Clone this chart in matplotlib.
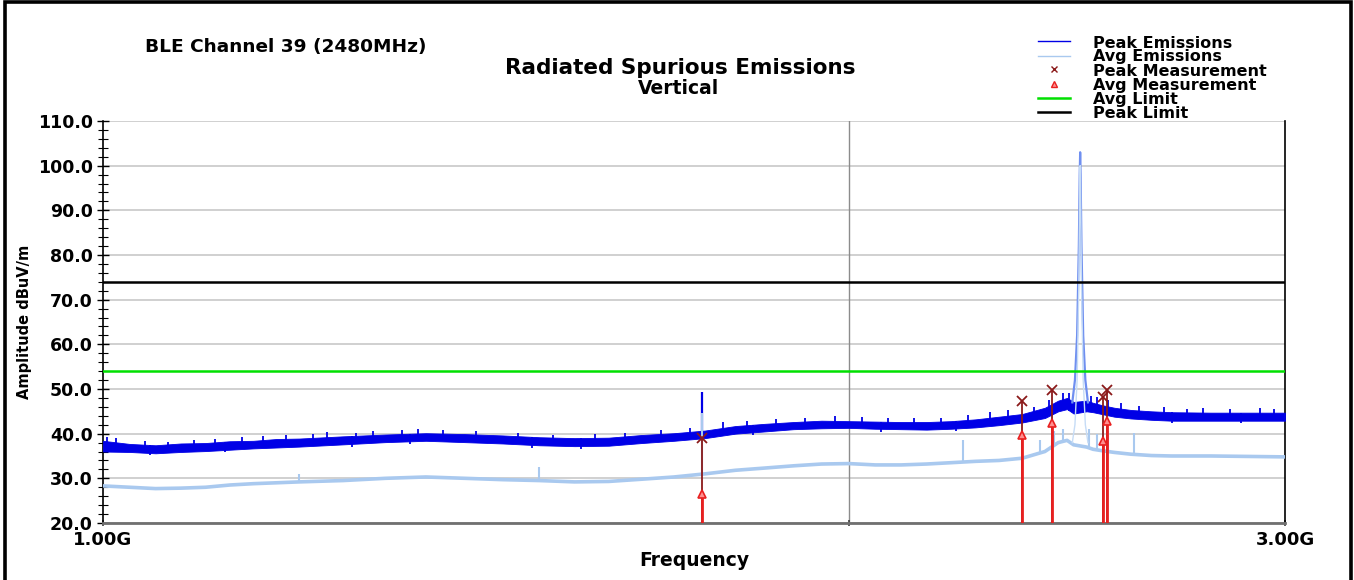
import numpy as np
import matplotlib
matplotlib.use('Agg')
import matplotlib.pyplot as plt
from matplotlib.lines import Line2D
from matplotlib.patches import Rectangle

plt.rcParams['font.family'] = ['DejaVu Sans']
plt.rcParams['font.weight'] = 'bold'

# sweep readings (MHz)
sweep_mhz = [1000, 1025, 1050, 1075, 1100, 1125, 1150, 1175, 1200, 1250, 1300, 1350,
             1400, 1450, 1500, 1550, 1600, 1650, 1700, 1750, 1800, 1850, 1900, 1950,
             2000, 2050, 2100, 2150, 2200, 2250, 2300, 2350, 2400, 2430, 2450, 2465,
             2495, 2510, 2530, 2560, 2600, 2650, 2700, 2800, 2900, 3000]
# peak emissions noise band (lower / upper edge, dBuV/m)
peak_lo = [36.0, 35.9, 35.6, 35.9, 36.1, 36.4, 36.7, 36.9, 37.1, 37.6, 38.1, 38.4,
           38.1, 37.8, 37.4, 37.2, 37.3, 37.9, 38.4, 39.0, 40.0, 40.5, 41.0, 41.2,
           41.3, 41.1, 41.0, 40.9, 41.1, 41.4, 41.9, 42.5, 43.5, 45.0, 45.5, 44.5,
           45.0, 44.8, 44.4, 43.8, 43.4, 43.1, 42.9, 42.9, 42.9, 42.9]
peak_hi = [38.4, 37.7, 37.4, 37.8, 37.9, 38.3, 38.4, 38.8, 38.9, 39.4, 39.8, 40.1,
           39.9, 39.6, 39.2, 39.0, 39.1, 39.7, 40.1, 40.7, 41.7, 42.2, 42.6, 42.9,
           42.8, 42.7, 42.6, 42.6, 42.8, 43.2, 43.8, 44.4, 45.8, 47.4, 48.0, 47.1,
           47.4, 46.9, 46.4, 45.8, 45.3, 45.0, 44.8, 44.7, 44.7, 44.7]
avg_db = [28.3, 28.0, 27.7, 27.8, 28.0, 28.5, 28.8, 29.0, 29.2, 29.5, 30.0, 30.3,
          30.0, 29.7, 29.5, 29.2, 29.3, 29.8, 30.3, 31.0, 31.8, 32.3, 32.8, 33.2,
          33.3, 33.0, 33.0, 33.2, 33.5, 33.8, 34.0, 34.5, 36.0, 38.0, 38.5, 37.5,
          37.0, 36.5, 36.2, 35.8, 35.4, 35.1, 35.0, 35.0, 34.9, 34.8]

# noise spikes on the peak trace: upward tips and downward dips
peak_up_mhz = [1004, 1012, 1040, 1062, 1088, 1110, 1138, 1160, 1185, 1215, 1232, 1265,
               1285, 1320, 1340, 1372, 1415, 1470, 1520, 1580, 1625, 1680, 1725, 1780,
               1820, 1870, 1920, 1975, 2025, 2075, 2125, 2180, 2235, 2280, 2320, 2375,
               2410, 2440, 2455, 2505, 2520, 2545, 2575, 2620, 2680, 2740, 2780, 2850,
               2930, 2970]
peak_up_db = [39.2, 39.0, 38.3, 38.2, 38.6, 38.8, 39.2, 39.4, 39.6, 40.0, 40.3, 40.1,
              40.6, 40.9, 41.0, 40.8, 40.6, 40.2, 39.8, 39.9, 40.2, 40.9, 41.2, 42.6,
              42.8, 43.2, 43.6, 43.9, 43.8, 43.5, 43.4, 43.6, 44.2, 44.8, 45.2, 46.0,
              47.5, 49.0, 49.2, 48.5, 48.2, 47.6, 46.8, 46.3, 45.9, 45.6, 45.8, 45.5,
              45.7, 45.6]
peak_dn_mhz = [1045, 1120, 1260, 1330, 1490, 1560, 1830, 2060, 2210, 2700, 2880]
peak_dn_db = [35.2, 35.8, 37.0, 37.6, 36.8, 36.6, 39.6, 40.3, 40.5, 42.3, 42.4]
peak_big_mhz = [1745]
peak_big_db = [49.3]

# narrow spikes on the average trace
avg_spike_mhz = [1200, 1500, 1745, 2224, 2390, 2420, 2440, 2500, 2520, 2545, 2607]
avg_spike_db = [31.0, 32.5, 44.6, 38.6, 38.5, 40.5, 41.0, 41.0, 40.0, 40.5, 40.2]

# carrier at 2480 MHz
carrier_mhz = [2462, 2468, 2473, 2477, 2479, 2480, 2481, 2483, 2487, 2492, 2498]
carrier_peak = [47.0, 52.0, 62.0, 82.0, 98.0, 103.0, 98.0, 82.0, 62.0, 52.0, 47.0]
carrier_avg = [38.0, 42.0, 52.0, 74.0, 93.0, 100.0, 93.0, 74.0, 52.0, 42.0, 38.0]

# final measurements
meas_mhz = [1745, 2350, 2415, 2533, 2543]
meas_peak = [39.0, 47.2, 49.8, 48.1, 49.8]
meas_avg = [26.5, 39.7, 42.3, 38.4, 42.9]

avg_limit = 54.0
peak_limit = 74.0

c_peak = '#0000e6'
c_avg = '#a9c9ef'
c_pk_meas = '#8b1a1a'
c_av_meas = '#e82020'

fig = plt.figure(figsize=(13.54, 5.8), dpi=100)
ax = fig.add_axes([0.0761, 0.0983, 0.8729, 0.6931])

ax.set_xscale('log')
ax.set_xlim(1000, 3000)
ax.set_ylim(20, 110)

for y in range(20, 111, 10):
    ax.axhline(y, color='#c8c8c8', lw=1.2, zorder=1)
ax.axvline(2000, color='#8c8c8c', lw=1.0, zorder=1)

# peak emissions
ax.fill_between(sweep_mhz, peak_lo, peak_hi, color=c_peak, lw=0.6, zorder=3)
ax.vlines(peak_up_mhz, np.interp(peak_up_mhz, sweep_mhz, peak_lo), peak_up_db,
          color=c_peak, lw=1.3, zorder=3)
ax.vlines(peak_dn_mhz, peak_dn_db, np.interp(peak_dn_mhz, sweep_mhz, peak_hi),
          color=c_peak, lw=1.3, zorder=3)
ax.vlines(peak_big_mhz, np.interp(peak_big_mhz, sweep_mhz, peak_lo), peak_big_db,
          color=c_peak, lw=1.6, zorder=3)
ax.plot(carrier_mhz, carrier_peak, color='#6f8ff0', lw=1.6, zorder=3)

# average emissions
ax.plot(sweep_mhz, avg_db, color=c_avg, lw=2.6, zorder=4)
ax.vlines(avg_spike_mhz, np.interp(avg_spike_mhz, sweep_mhz, avg_db), avg_spike_db,
          color=c_avg, lw=1.5, zorder=4)
ax.plot(carrier_mhz, carrier_avg, color='#c6dcf6', lw=1.0, zorder=4)

ax.axhline(avg_limit, color='#00e000', lw=1.8, zorder=5)
ax.axhline(peak_limit, color='black', lw=1.8, zorder=5)

ax.vlines(meas_mhz, 20, meas_peak, color=c_pk_meas, lw=1.3, zorder=6)
ax.vlines(meas_mhz, 20, meas_avg, color=c_av_meas, lw=2.0, zorder=6)
ax.plot(meas_mhz, meas_peak, ls='none', marker='x', ms=7, mew=1.3, color=c_pk_meas, zorder=7)
ax.plot(meas_mhz, meas_avg, ls='none', marker='^', ms=6, mew=1.2, mfc='#ff9090',
        mec=c_av_meas, zorder=7)

ax.set_yticks(range(20, 111, 10))
ax.set_yticklabels(['%.1f' % v for v in range(20, 111, 10)], fontsize=12.5, fontweight='bold')
ax.set_yticks(np.arange(20, 111, 2), minor=True)
ax.tick_params(axis='y', which='major', direction='inout', length=9, width=1.0, pad=3)
ax.tick_params(axis='y', which='minor', direction='inout', length=7, width=0.8)

ax.xaxis.set_minor_locator(matplotlib.ticker.NullLocator())
ax.set_xticks([1000, 2000, 3000])
ax.set_xticklabels(['1.00G', '', '3.00G'], fontsize=13, fontweight='bold')
ax.tick_params(axis='x', which='major', direction='inout', length=5, width=1.2, pad=3,
               color='#404040')

ax.spines['top'].set_visible(False)
ax.spines['left'].set_color('black')
ax.spines['left'].set_linewidth(1.2)
ax.spines['right'].set_color('black')
ax.spines['right'].set_linewidth(1.2)
ax.spines['bottom'].set_color('#707070')
ax.spines['bottom'].set_linewidth(2.0)

ax.set_ylabel('Amplitude dBuV/m', fontsize=10.5, fontweight='bold')
ax.yaxis.set_label_coords(-0.060, 0.5)
ax.set_xlabel('Frequency', fontsize=13.5, fontweight='bold', labelpad=2)

fig.text(145 / 1354, 1 - 47 / 580, 'BLE Channel 39 (2480MHz)', fontsize=13.3,
         fontweight='bold', va='center', ha='left')
fig.text(680 / 1354, 1 - 68 / 580, 'Radiated Spurious Emissions', fontsize=15.5,
         fontweight='bold', va='center', ha='center')
fig.text(679 / 1354, 1 - 89 / 580, 'Vertical', fontsize=13.5, fontweight='bold',
         va='center', ha='center')

# legend, laid out row by row like the analyser printout
leg_labels = ['Peak Emissions', 'Avg Emissions', 'Peak Measurement', 'Avg Measurement',
              'Avg Limit', 'Peak Limit']
leg_base = [47.5, 61.5, 75.5, 90, 104, 118.5]
leg_mark = [41, 56, 69, 84, 98, 112]
leg_styles = [
    dict(color=c_peak, lw=1.0),
    dict(color=c_avg, lw=1.0),
    dict(ls='none', marker='x', ms=5, mew=1.0, color=c_pk_meas),
    dict(ls='none', marker='^', ms=4, mfc='#ff9090', mec=c_av_meas),
    dict(color='#00e000', lw=1.8),
    dict(color='black', lw=1.8),
]
for lab, yb, ym, st in zip(leg_labels, leg_base, leg_mark, leg_styles):
    yf = 1 - ym / 580
    if st.get('ls') == 'none':
        fig.add_artist(Line2D([1054 / 1354], [yf], transform=fig.transFigure, **st))
    else:
        fig.add_artist(Line2D([1038 / 1354, 1070 / 1354], [yf, yf],
                              transform=fig.transFigure, **st))
    fig.text(1093 / 1354, 1 - yb / 580, lab, fontsize=11.5, fontweight='bold',
             va='baseline', ha='left')

fig.add_artist(Rectangle((0.0035, -0.02), 0.9945, 1.016, transform=fig.transFigure,
                         fill=False, ec='black', lw=2.6))

fig.savefig('out.png', dpi=100)
